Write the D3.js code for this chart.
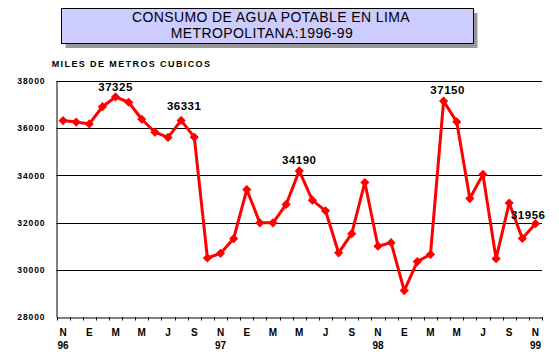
<!DOCTYPE html>
<html>
<head>
<meta charset="utf-8">
<script src="https://cdn.jsdelivr.net/npm/d3@7"></script>
<style>
  html, body { margin: 0; padding: 0; background: #fff; }
  svg { display: block; font-family: Arial, "Liberation Sans", sans-serif; }
</style>
</head>
<body>
<svg id="chart" width="559" height="359"></svg>
<script>
// ---- data ----
const months = ["N","D","E","F","M","A","M","J","J","A","S","O",
                "N","D","E","F","M","A","M","J","J","A","S","O",
                "N","D","E","F","M","A","M","J","J","A","S","O","N"];
const years = ["96","","","","","","","","","","","",
               "97","","","","","","","","","","","",
               "98","","","","","","","","","","","","99"];
const values = [36323, 36260, 36180, 36910, 37325, 37100, 36380, 35830, 35610, 36331,
                35620, 30500, 30700, 31320, 33400, 31990, 31990, 32770, 34190, 32950,
                32500, 30720, 31530, 33700, 31000, 31150, 29120, 30350, 30650, 37150,
                36270, 33020, 34040, 30470, 32830, 31330, 31956];
const labelledIdx = [4, 9, 18, 29, 36];
const yTicks = [28000, 30000, 32000, 34000, 36000, 38000];
const titleLines = ["CONSUMO DE AGUA POTABLE EN LIMA", "METROPOLITANA:1996-99"];
const unitLabel = "MILES DE METROS CUBICOS";

(function () {
// ---- layout ----
const svg = d3.select("#chart");
const pLeft = 56.5, pRight = 542, pTop = 81, pBottom = 317;
const idx = d3.range(values.length);
const x = d3.scaleBand().domain(idx).range([pLeft, pRight]).paddingInner(0).paddingOuter(0);
const cx = i => x(i) + x.bandwidth() / 2;
const y = d3.scaleLinear().domain([28000, 38000]).range([pBottom, pTop]);

// ---- title box ----
svg.append("rect").attr("x", 65.5).attr("y", 13).attr("width", 412).attr("height", 35).attr("fill", "#999999");
svg.append("rect").attr("x", 61.5).attr("y", 8.5).attr("width", 412).attr("height", 35)
   .attr("fill", "#CCCCFF").attr("stroke", "#000").attr("stroke-width", 1);
const titleX = [271, 262], titleY = [22, 38];
titleLines.forEach((t, k) => {
  svg.append("text").attr("x", titleX[k]).attr("y", titleY[k]).attr("text-anchor", "middle")
     .attr("font-size", 14).attr("letter-spacing", 0.4).attr("fill", "#000").text(t);
});
svg.append("text").attr("x", 51.7).attr("y", 67).attr("font-size", 9).attr("font-weight", "bold")
   .attr("letter-spacing", 1.4).attr("fill", "#000").text(unitLabel);

// ---- gridlines ----
svg.append("g").selectAll("line").data(yTicks.filter(d => d > 28000)).join("line")
   .attr("x1", pLeft).attr("x2", pRight)
   .attr("y1", d => Math.round(y(d)) + 0.5).attr("y2", d => Math.round(y(d)) + 0.5)
   .attr("stroke", "#000").attr("stroke-width", 1);

// ---- y axis ----
const yAxis = d3.axisLeft(y).tickValues(yTicks).tickSize(0).tickPadding(11).tickFormat(d3.format("d"));
const gy = svg.append("g").attr("transform", `translate(${pLeft},0)`).call(yAxis);
gy.select(".domain").attr("stroke", "#000").attr("stroke-width", 1);
gy.selectAll("text").attr("font-size", 8.5).attr("font-weight", "bold").attr("letter-spacing", 0.9)
   .attr("font-family", "Arial, 'Liberation Sans', sans-serif").attr("fill", "#000");

// ---- x axis ----
const xAxis = d3.axisBottom(x).tickValues(idx.filter(i => i % 2 === 0)).tickSize(0).tickPadding(11)
   .tickFormat(i => months[i]);
const gx = svg.append("g").attr("transform", `translate(0,${pBottom + 0.5})`).call(xAxis);
gx.select(".domain").attr("stroke", "#000").attr("stroke-width", 1);
gx.selectAll("text").attr("font-size", 10).attr("font-weight", "bold")
   .attr("font-family", "Arial, 'Liberation Sans', sans-serif").attr("fill", "#000");
// category boundary tick marks
svg.append("g").selectAll("line").data(idx.concat([values.length])).join("line")
   .attr("x1", i => Math.round(i < values.length ? x(i) : pRight) + 0.5)
   .attr("x2", i => Math.round(i < values.length ? x(i) : pRight) + 0.5)
   .attr("y1", pBottom).attr("y2", pBottom + 3.5).attr("stroke", "#000").attr("stroke-width", 1);
// year labels
svg.append("g").selectAll("text").data(idx.filter(i => years[i])).join("text")
   .attr("x", i => cx(i)).attr("y", 349).attr("text-anchor", "middle")
   .attr("font-size", 10).attr("font-weight", "bold").attr("fill", "#000").text(i => years[i]);

// ---- line ----
const line = d3.line().x((d, i) => cx(i)).y(d => y(d));
svg.append("path").datum(values).attr("d", line).attr("fill", "none")
   .attr("stroke", "#FF0000").attr("stroke-width", 3).attr("stroke-linejoin", "round");
// diamond markers
const r = 4.6;
svg.append("g").selectAll("path").data(values).join("path")
   .attr("d", (d, i) => {
     const px = cx(i), py = y(d);
     return `M${px},${py - r}L${px + r},${py}L${px},${py + r}L${px - r},${py}Z`;
   })
   .attr("fill", "#FF0000");

// ---- data labels ----
const labelPos = {4: {dx: 0, dy: -6, anchor: "middle"}, 9: {dx: 3, dy: -10, anchor: "middle"},
                  18: {dx: 0, dy: -7, anchor: "middle"}, 29: {dx: 4, dy: -7, anchor: "middle"},
                  36: {dx: 10, dy: -5, anchor: "end"}};
svg.append("g").selectAll("text").data(labelledIdx).join("text")
   .attr("x", i => cx(i) + labelPos[i].dx).attr("y", i => y(values[i]) + labelPos[i].dy)
   .attr("text-anchor", i => labelPos[i].anchor)
   .attr("font-size", 11.5).attr("font-weight", "bold").attr("letter-spacing", 0.5).attr("fill", "#000")
   .text(i => values[i]);
})();
</script>
</body>
</html>
